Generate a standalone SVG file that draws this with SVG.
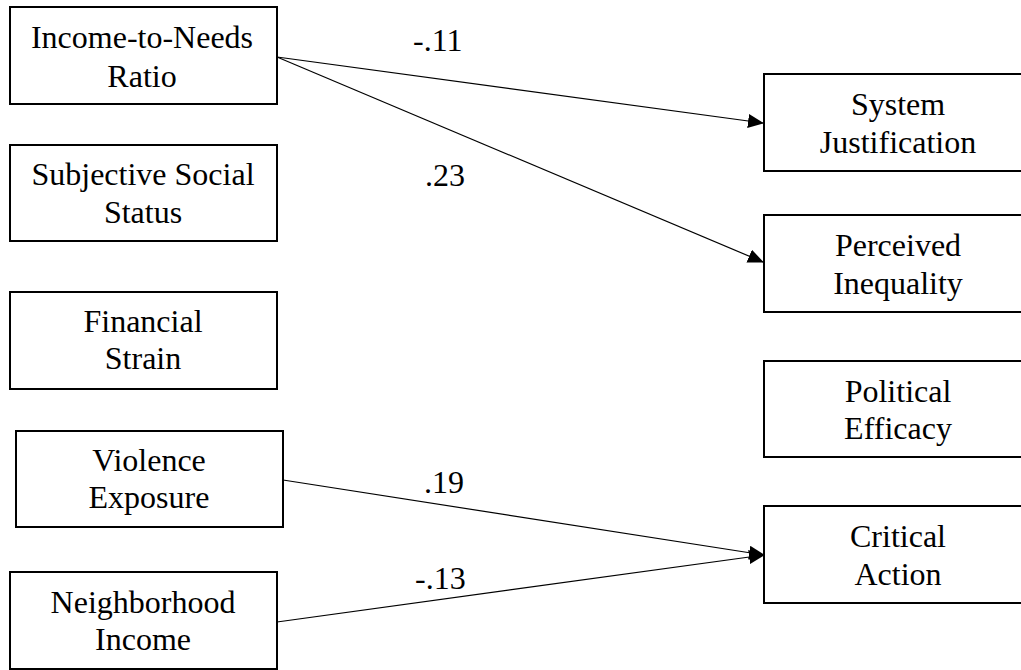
<svg xmlns="http://www.w3.org/2000/svg" width="1021" height="670" viewBox="0 0 1021 670">
<defs>
<marker id="ah" markerWidth="16" markerHeight="14" refX="15" refY="7" orient="auto" markerUnits="userSpaceOnUse">
<path d="M0,0 L16,7 L0,14 Z" fill="#000"/>
</marker>
<style>
.box{fill:#fff;stroke:#000;stroke-width:2}
.t{font-family:'Liberation Serif','DejaVu Serif',serif;font-size:32px;fill:#000;text-anchor:middle}
.lbl{font-family:'Liberation Serif','DejaVu Serif',serif;font-size:32px;fill:#000}
.c{stroke:#000;stroke-width:1.2;fill:none;marker-end:url(#ah)}
</style>
</defs>
<rect width="1021" height="670" fill="#fff"/>
<g id="connectors">
<line class="c" x1="277" y1="57" x2="763" y2="123"/>
<line class="c" x1="277" y1="57" x2="763" y2="262"/>
<line class="c" x1="283" y1="480" x2="764" y2="555"/>
<line class="c" x1="277" y1="622" x2="764" y2="555"/>
<text class="lbl" x="413" y="51">-.11</text>
<text class="lbl" x="425" y="186">.23</text>
<text class="lbl" x="424" y="493">.19</text>
<text class="lbl" x="415" y="589">-.13</text>
</g>
<g id="income-to-needs">
<rect class="box" x="10" y="7" width="267" height="97"/>
<text class="t" x="142" y="48">Income-to-Needs</text>
<text class="t" x="142" y="87">Ratio</text>
</g>
<g id="subjective-social-status">
<rect class="box" x="10" y="145" width="267" height="96"/>
<text class="t" x="143" y="185">Subjective Social</text>
<text class="t" x="143" y="223">Status</text>
</g>
<g id="financial-strain">
<rect class="box" x="10" y="292" width="267" height="97"/>
<text class="t" x="143" y="332">Financial</text>
<text class="t" x="143" y="369">Strain</text>
</g>
<g id="violence-exposure">
<rect class="box" x="16" y="431" width="267" height="96"/>
<text class="t" x="149" y="471">Violence</text>
<text class="t" x="149" y="508">Exposure</text>
</g>
<g id="neighborhood-income">
<rect class="box" x="10" y="572" width="267" height="97"/>
<text class="t" x="143" y="613">Neighborhood</text>
<text class="t" x="143" y="650">Income</text>
</g>
<g id="system-justification">
<rect class="box" x="764" y="74" width="268" height="97"/>
<text class="t" x="898" y="115">System</text>
<text class="t" x="898" y="153">Justification</text>
</g>
<g id="perceived-inequality">
<rect class="box" x="764" y="215" width="268" height="97"/>
<text class="t" x="898" y="256">Perceived</text>
<text class="t" x="898" y="294">Inequality</text>
</g>
<g id="political-efficacy">
<rect class="box" x="764" y="361" width="268" height="96"/>
<text class="t" x="898" y="402">Political</text>
<text class="t" x="898" y="439">Efficacy</text>
</g>
<g id="critical-action">
<rect class="box" x="764" y="506" width="268" height="97"/>
<text class="t" x="898" y="547">Critical</text>
<text class="t" x="898" y="585">Action</text>
</g>
</svg>
